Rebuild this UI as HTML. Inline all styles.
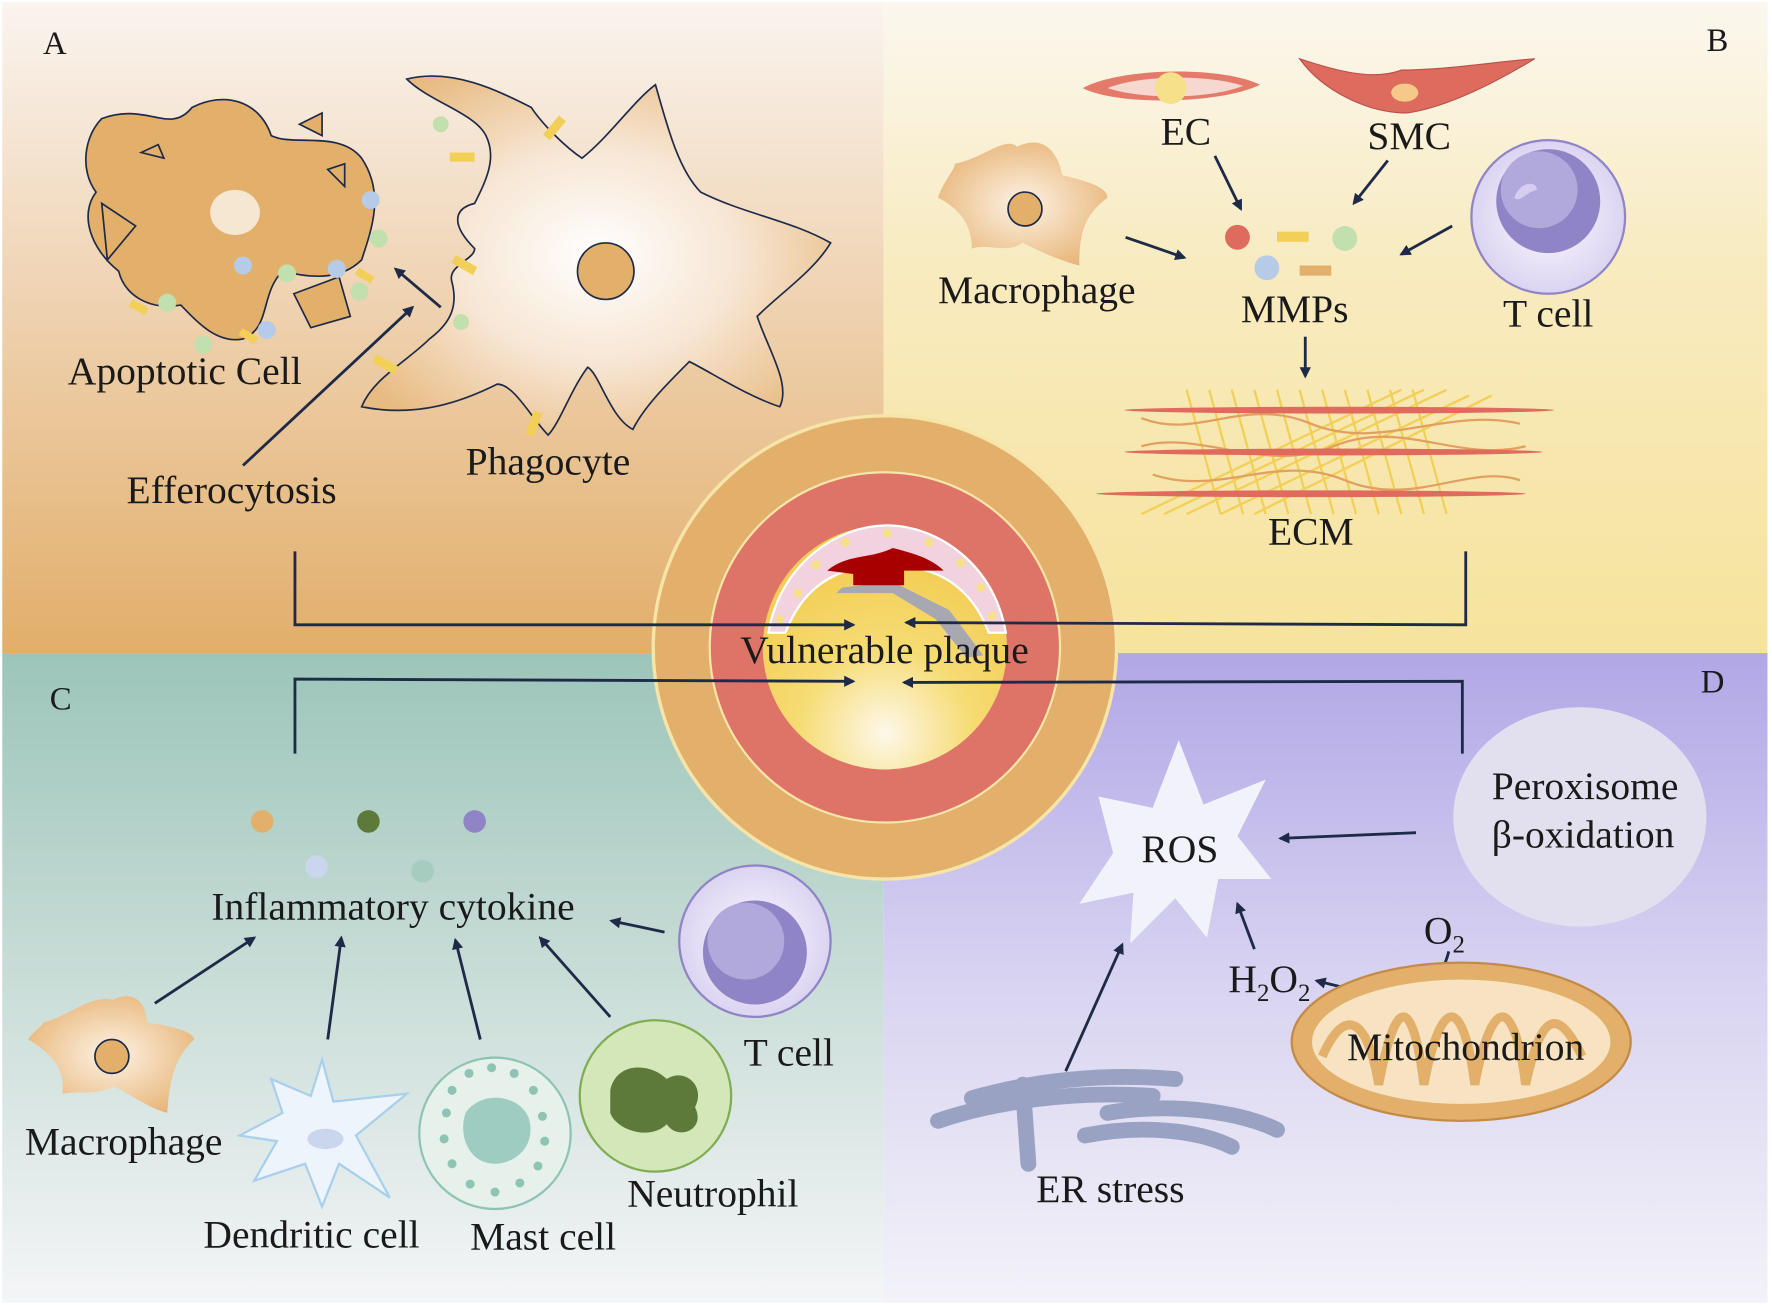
<!DOCTYPE html>
<html><head><meta charset="utf-8"><style>
html,body{margin:0;padding:0;background:#fff;}
svg{display:block;}
text{font-family:"Liberation Serif",serif;fill:#1a1a1a;}
.l{font-size:35px;}
</style></head><body>
<svg width="1772" height="1305" viewBox="0 0 1568 1155" preserveAspectRatio="none" xmlns="http://www.w3.org/2000/svg">
<defs>
<linearGradient id="gA" x1="0" y1="0" x2="0" y2="1"><stop offset="0" stop-color="#faf4ef"/><stop offset="0.45" stop-color="#efd3b2"/><stop offset="1" stop-color="#e2ae6a"/></linearGradient>
<linearGradient id="gB" x1="0" y1="0" x2="0" y2="1"><stop offset="0" stop-color="#fbf7ee"/><stop offset="0.4" stop-color="#f8ebc0"/><stop offset="1" stop-color="#f6e39c"/></linearGradient>
<linearGradient id="gC" x1="0" y1="0" x2="0" y2="1"><stop offset="0" stop-color="#9cc5b9"/><stop offset="0.5" stop-color="#c9ddd7"/><stop offset="1" stop-color="#f4f5f7"/></linearGradient>
<linearGradient id="gD" x1="0" y1="0" x2="0" y2="1"><stop offset="0" stop-color="#b1a7e6"/><stop offset="0.5" stop-color="#d8d3f1"/><stop offset="1" stop-color="#f3f2f8"/></linearGradient>
<radialGradient id="gIn" cx="0.5" cy="0.85" r="0.7"><stop offset="0" stop-color="#fdf8ea"/><stop offset="0.5" stop-color="#f6dc74"/><stop offset="1" stop-color="#f3cd55"/></radialGradient>
<radialGradient id="gCell" cx="0.5" cy="0.5" r="0.6"><stop offset="0" stop-color="#ffffff"/><stop offset="0.5" stop-color="#f7e6d4"/><stop offset="1" stop-color="#e8bb82"/></radialGradient>
<radialGradient id="gMac" cx="0.5" cy="0.5" r="0.6"><stop offset="0" stop-color="#fdf3e6"/><stop offset="1" stop-color="#e7b374"/></radialGradient>
<radialGradient id="gT" cx="0.5" cy="0.5" r="0.6"><stop offset="0" stop-color="#fbfaff"/><stop offset="1" stop-color="#d5ccef"/></radialGradient>
<marker id="ar" markerWidth="10" markerHeight="10" refX="8" refY="5" orient="auto" markerUnits="userSpaceOnUse"><path d="M0,0 L10,5 L0,10 Z" fill="#1e2a48"/></marker>
</defs>
<rect x="0" y="0" width="1568" height="1155" fill="#fff"/>
<rect x="2" y="2" width="780" height="576" fill="url(#gA)"/>
<rect x="782" y="2" width="782" height="576" fill="url(#gB)"/>
<rect x="2" y="578" width="780" height="575" fill="url(#gC)"/>
<rect x="782" y="578" width="782" height="575" fill="url(#gD)"/>

<!-- A -->
<text x="38" y="48" font-size="29">A</text>
<path d="M90,105 C130,90 150,120 170,95 C200,80 230,90 240,120 C260,130 300,115 320,140 C340,170 330,200 320,230 C300,250 270,245 250,240 C230,260 240,290 215,300 C190,305 170,280 160,270 C130,275 110,260 105,240 C80,220 70,190 85,170 C70,150 75,120 90,105 Z" fill="#e2b06a" stroke="#1e2a48" stroke-width="1.5"/>
<ellipse cx="208" cy="188" rx="22" ry="20" fill="#fff" opacity="0.7"/>
<path d="M265,110 L285,100 L285,120 Z M125,135 L140,128 L145,140 Z M290,150 L305,145 L305,165 Z M90,180 L120,200 L95,230 Z M260,260 L300,245 L310,280 L275,290 Z" fill="#e2b06a" stroke="#1e2a48" stroke-width="1.5"/>
<path d="M360,70 C400,60 440,80 470,95 C480,110 500,130 515,140 C540,120 560,90 580,75 C590,110 600,150 620,170 C660,190 700,195 735,215 C720,240 690,260 670,280 C680,310 700,340 690,360 C660,350 630,330 610,320 C590,340 570,360 560,380 C540,370 530,330 520,325 C505,345 495,375 485,385 C470,370 455,340 440,340 C410,355 370,370 320,360 C330,335 360,320 380,300 C400,285 405,270 400,250 C395,235 420,230 420,220 C400,200 400,185 420,180 C430,160 440,140 430,120 C420,100 380,90 360,70 Z" fill="url(#gCell)" stroke="#1e2a48" stroke-width="1.5"/>
<circle cx="536" cy="240" r="25" fill="#e2b06a" stroke="#1e2a48" stroke-width="1.5"/>
<g fill="#b6cbe8"><circle cx="328" cy="177" r="8"/><circle cx="215" cy="235" r="8"/><circle cx="298" cy="238" r="8"/><circle cx="236" cy="292" r="8"/></g>
<g fill="#c2dfae"><circle cx="335" cy="211" r="8"/><circle cx="254" cy="242" r="8"/><circle cx="318" cy="258" r="8"/><circle cx="148" cy="268" r="8"/><circle cx="180" cy="305" r="8"/><circle cx="408" cy="285" r="7"/><circle cx="390" cy="110" r="7"/></g>
<g fill="#f2cf56"><rect x="398" y="135" width="22" height="8"/><rect x="400" y="230" width="22" height="8" transform="rotate(30 410 234)"/><rect x="480" y="110" width="22" height="8" transform="rotate(-50 490 114)"/><rect x="330" y="318" width="22" height="8" transform="rotate(30 340 322)"/><rect x="462" y="372" width="22" height="8" transform="rotate(-70 472 376)"/><rect x="115" y="268" width="16" height="7" transform="rotate(30 122 271)"/><rect x="212" y="294" width="16" height="7" transform="rotate(30 220 297)"/><rect x="315" y="240" width="16" height="7" transform="rotate(30 322 243)"/></g>
<text x="60" y="340" class="l">Apoptotic Cell</text>
<text x="412" y="420" class="l">Phagocyte</text>
<text x="112" y="445" class="l">Efferocytosis</text>
<line x1="215" y1="412" x2="365" y2="272" stroke="#1e2a48" stroke-width="2.5" marker-end="url(#ar)"/>
<line x1="390" y1="272" x2="350" y2="238" stroke="#1e2a48" stroke-width="2.5" marker-end="url(#ar)"/>

<!-- B -->
<text x="1510" y="45" font-size="29">B</text>
<path d="M958,78 C990,60 1080,58 1115,75 C1080,92 990,94 958,78 Z" fill="#e47a6a"/>
<path d="M980,78 C1010,66 1070,66 1100,76 C1070,88 1010,88 980,78 Z" fill="#f6d8d0"/>
<circle cx="1036" cy="78" r="14" fill="#f6e08a"/>
<path d="M1150,52 C1180,62 1215,72 1240,62 C1280,62 1320,55 1358,52 C1320,75 1280,95 1245,100 C1210,100 1170,80 1150,52 Z" fill="#de6c5e" stroke="#b8504a" stroke-width="1"/>
<ellipse cx="1243" cy="82" rx="12" ry="8" fill="#f6c88a"/>
<text x="1027" y="128" class="l">EC</text>
<text x="1210" y="132" class="l">SMC</text>
<path d="M845,145 C870,140 890,120 900,130 C920,120 935,130 940,155 C960,160 980,165 980,175 C960,190 955,205 955,235 C935,230 915,220 905,215 C890,225 875,215 860,220 C860,200 850,185 830,175 C835,160 845,150 845,145 Z" fill="url(#gMac)"/>
<circle cx="907" cy="185" r="15" fill="#e2b06a" stroke="#1e2a48" stroke-width="1.5"/>
<text x="830" y="268" class="l">Macrophage</text>
<circle cx="1370" cy="192" r="68" fill="url(#gT)" stroke="#8f84c6" stroke-width="2"/>
<circle cx="1370" cy="178" r="46" fill="#8e84c6"/>
<circle cx="1362" cy="168" r="34" fill="#b1a8dc"/>
<path d="M1340,175 C1345,160 1360,160 1360,168 C1350,170 1345,180 1340,175Z" fill="#d5cef0"/>
<text x="1330" y="289" class="l">T cell</text>
<circle cx="1095" cy="210" r="11" fill="#de6c5e"/>
<circle cx="1190" cy="211" r="11" fill="#c2dfae"/>
<circle cx="1121" cy="237" r="11" fill="#b6cbe8"/>
<rect x="1130" y="205" width="28" height="9" fill="#f2cf56"/>
<rect x="1150" y="235" width="28" height="9" fill="#e2b06a"/>
<text x="1098" y="285" class="l">MMPs</text>
<line x1="1075" y1="138" x2="1098" y2="185" stroke="#1e2a48" stroke-width="2.5" marker-end="url(#ar)"/>
<line x1="1228" y1="142" x2="1198" y2="180" stroke="#1e2a48" stroke-width="2.5" marker-end="url(#ar)"/>
<line x1="996" y1="210" x2="1048" y2="228" stroke="#1e2a48" stroke-width="2.5" marker-end="url(#ar)"/>
<line x1="1285" y1="200" x2="1240" y2="225" stroke="#1e2a48" stroke-width="2.5" marker-end="url(#ar)"/>
<line x1="1155" y1="298" x2="1155" y2="333" stroke="#1e2a48" stroke-width="2.5" marker-end="url(#ar)"/>
<g stroke="#f2cf56" stroke-width="2">
<path d="M1050,345 L1080,455 M1070,345 L1100,455 M1090,345 L1120,455 M1110,345 L1140,455 M1130,345 L1160,455 M1150,345 L1180,455 M1170,345 L1200,455 M1190,345 L1220,455 M1210,345 L1240,455 M1230,345 L1260,455 M1250,345 L1280,455"/>
<path d="M1280,345 L1050,455 M1260,345 L1030,455 M1300,350 L1080,455 M1240,345 L1010,455 M1320,350 L1110,455"/>
</g>
<g fill="none" stroke="#e2a060" stroke-width="2">
<path d="M1010,370 C1060,390 1100,350 1160,375 C1220,400 1280,360 1345,375"/>
<path d="M1010,395 C1060,380 1120,420 1180,395 C1240,370 1290,410 1350,395"/>
<path d="M1020,420 C1080,440 1130,400 1190,425 C1250,450 1300,410 1345,425"/>
</g>
<g fill="#e06a5e"><ellipse cx="1185" cy="363" rx="190" ry="3"/><ellipse cx="1180" cy="400" rx="185" ry="3"/><ellipse cx="1160" cy="437" rx="190" ry="3"/></g>
<text x="1122" y="482" class="l">ECM</text>

<!-- C -->
<text x="44" y="628" font-size="29">C</text>
<circle cx="232" cy="727" r="10" fill="#e2b06a"/>
<circle cx="326" cy="727" r="10" fill="#5d7a3a"/>
<circle cx="420" cy="727" r="10" fill="#8e84c6"/>
<circle cx="280" cy="767" r="10" fill="#c9d6ee"/>
<circle cx="374" cy="771" r="10" fill="#a6ccc0"/>
<text x="187" y="814" class="l">Inflammatory cytokine</text>
<circle cx="668" cy="833" r="67" fill="url(#gT)" stroke="#8f84c6" stroke-width="2"/>
<circle cx="668" cy="843" r="46" fill="#8e84c6"/>
<circle cx="660" cy="833" r="34" fill="#b1a8dc"/>
<text x="658" y="943" class="l">T cell</text>
<path d="M38,905 C60,900 80,880 100,885 C120,875 130,890 130,905 C150,908 170,912 172,920 C155,935 150,955 148,985 C128,980 112,965 100,962 C85,970 70,965 55,968 C58,950 50,935 25,920 C30,912 38,908 38,905 Z" fill="url(#gMac)"/>
<circle cx="99" cy="935" r="15" fill="#e2b06a" stroke="#1e2a48" stroke-width="1.5"/>
<text x="22" y="1022" class="l">Macrophage</text>
<path d="M285,938 L295,975 L360,968 L315,1005 L345,1060 L300,1030 L285,1068 L270,1030 L225,1045 L245,1010 L212,1005 L250,985 L240,955 L275,970 Z" fill="#eef4fb" stroke="#a8d0ec" stroke-width="2"/>
<ellipse cx="288" cy="1008" rx="16" ry="9" fill="#c9d6ee"/>
<text x="180" y="1104" class="l">Dendritic cell</text>
<circle cx="438" cy="1003" r="67" fill="#e6f1ec" stroke="#8fc4b4" stroke-width="2"/>
<path d="M412,985 C425,965 460,968 468,990 C475,1015 455,1030 438,1030 C415,1030 405,1005 412,985 Z" fill="#9fccc0"/>
<g fill="#8fc4b4"><circle cx="395" cy="985" r="4"/><circle cx="400" cy="965" r="4"/><circle cx="415" cy="950" r="4"/><circle cx="435" cy="945" r="4"/><circle cx="455" cy="950" r="4"/><circle cx="472" cy="965" r="4"/><circle cx="480" cy="988" r="4"/><circle cx="482" cy="1010" r="4"/><circle cx="476" cy="1032" r="4"/><circle cx="460" cy="1047" r="4"/><circle cx="438" cy="1055" r="4"/><circle cx="416" cy="1048" r="4"/><circle cx="400" cy="1030" r="4"/><circle cx="393" cy="1008" r="4"/></g>
<text x="416" y="1106" class="l">Mast cell</text>
<circle cx="580" cy="970" r="67" fill="#d4e7b8" stroke="#7fae52" stroke-width="2"/>
<path d="M540,965 C545,940 575,940 590,955 C605,945 625,960 615,980 C625,1000 600,1010 590,995 C575,1010 545,1000 540,985 Z" fill="#5d7a3a"/>
<text x="555" y="1068" class="l">Neutrophil</text>
<line x1="137" y1="888" x2="225" y2="830" stroke="#1e2a48" stroke-width="2.5" marker-end="url(#ar)"/>
<line x1="290" y1="920" x2="302" y2="830" stroke="#1e2a48" stroke-width="2.5" marker-end="url(#ar)"/>
<line x1="425" y1="920" x2="403" y2="832" stroke="#1e2a48" stroke-width="2.5" marker-end="url(#ar)"/>
<line x1="540" y1="900" x2="478" y2="830" stroke="#1e2a48" stroke-width="2.5" marker-end="url(#ar)"/>
<line x1="588" y1="825" x2="541" y2="815" stroke="#1e2a48" stroke-width="2.5" marker-end="url(#ar)"/>

<!-- D -->
<text x="1505" y="613" font-size="29">D</text>
<ellipse cx="1398" cy="723" rx="112" ry="97" fill="#e2e0ee"/>
<text x="1320" y="707" class="l">Peroxisome</text>
<text x="1320" y="750" class="l">β-oxidation</text>
<path d="M1043,655 L1065,712 L1120,690 L1095,740 L1125,778 L1078,778 L1068,830 L1040,795 L1000,835 L1003,790 L955,800 L985,755 L972,705 L1020,715 Z" fill="#f2f2fa"/>
<text x="1010" y="763" class="l">ROS</text>
<line x1="1253" y1="737" x2="1133" y2="742" stroke="#1e2a48" stroke-width="2.5" marker-end="url(#ar)"/>
<line x1="1110" y1="840" x2="1095" y2="800" stroke="#1e2a48" stroke-width="2.5" marker-end="url(#ar)"/>
<line x1="943" y1="948" x2="993" y2="836" stroke="#1e2a48" stroke-width="2.5" marker-end="url(#ar)"/>
<text x="1087" y="878" class="l">H<tspan font-size="22" dy="8">2</tspan><tspan dy="-8">O</tspan><tspan font-size="22" dy="8">2</tspan></text>
<text x="1260" y="835" class="l">O<tspan font-size="22" dy="8">2</tspan></text>
<path d="M1282,842 C1270,890 1230,885 1165,868" fill="none" stroke="#1e2a48" stroke-width="2.5" marker-end="url(#ar)"/>
<ellipse cx="1293" cy="922" rx="150" ry="70" fill="#e2b06a" stroke="#c38a48" stroke-width="2"/>
<ellipse cx="1293" cy="922" rx="132" ry="55" fill="#f7e3c2"/>
<path d="M1170,935 C1190,890 1210,900 1220,960 C1235,880 1250,880 1260,960 C1275,880 1295,880 1305,960 C1320,880 1340,880 1350,960 C1365,890 1380,895 1400,935" fill="none" stroke="#e2b06a" stroke-width="8"/>
<text x="1192" y="938" class="l">Mitochondrion</text>
<g stroke="#9aa2c4" stroke-width="14" stroke-linecap="round" fill="none">
<path d="M830,992 C880,975 950,965 1020,970"/>
<path d="M860,972 C920,955 980,950 1040,955"/>
<path d="M980,985 C1040,975 1100,985 1130,1000"/>
<path d="M960,1005 C1010,995 1060,1000 1090,1015"/>
<path d="M905,960 L910,1030"/>
</g>
<text x="917" y="1064" class="l">ER stress</text>

<!-- center -->
<circle cx="783" cy="573" r="205" fill="#e2b06a" stroke="#f6e4a8" stroke-width="3"/>
<circle cx="783" cy="573" r="155" fill="#de7468" stroke="#f6e4a8" stroke-width="2"/>
<circle cx="783" cy="573" r="108" fill="url(#gIn)"/>
<path d="M680,560 C690,500 740,465 785,465 C830,465 880,500 890,560 L875,560 C860,520 830,500 785,500 C740,500 710,520 695,560 Z" fill="#f2d2de" stroke="#fff" stroke-width="2"/>
<path d="M745,520 L790,515 L840,540 L870,580 L855,582 L828,548 L790,525 L740,525 Z" fill="#a8a8b0"/>
<path d="M732,505 C750,490 770,495 790,485 C810,490 825,495 835,505 L800,505 L800,518 L755,518 L755,508 Z" fill="#a80000"/>
<g fill="#f6e08a"><circle cx="706" cy="525" r="4"/><circle cx="722" cy="500" r="4"/><circle cx="748" cy="480" r="4"/><circle cx="785" cy="472" r="4"/><circle cx="822" cy="480" r="4"/><circle cx="850" cy="498" r="4"/><circle cx="868" cy="520" r="4"/><circle cx="690" cy="548" r="4"/><circle cx="878" cy="545" r="4"/></g>
<text x="655" y="587" class="l">Vulnerable plaque</text>

<!-- connectors -->
<g fill="none" stroke="#1e2a48" stroke-width="2.5">
<path d="M261,488 L261,553 L755,553" marker-end="url(#ar)"/>
<path d="M1297,488 L1297,553 L802,551" marker-end="url(#ar)"/>
<path d="M261,667 L261,601 L755,603" marker-end="url(#ar)"/>
<path d="M1294,667 L1294,603 L800,604" marker-end="url(#ar)"/>
</g>
</svg>
</body></html>
